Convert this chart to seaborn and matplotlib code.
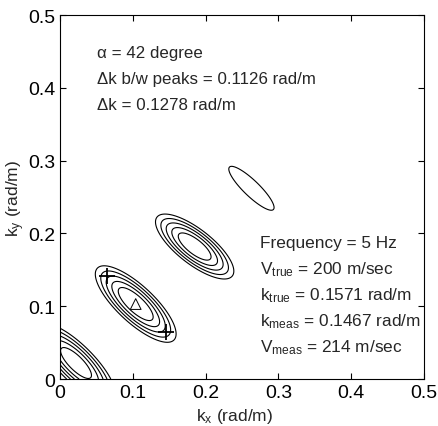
import numpy as np
import matplotlib
matplotlib.use("Agg")
import matplotlib.pyplot as plt
import seaborn as sns

# Beamformer response peaks (aliased lattice along the array direction)
peak_kx = [0.022, 0.104, 0.185, 0.263]
peak_ky = [0.022, 0.103, 0.182, 0.262]
peak_amp = [1.00, 1.03, 1.02, 0.57]
peak_sigma_long = [0.062, 0.060, 0.055, 0.082]    # major axis, rad/m
peak_sigma_short = [0.021, 0.021, 0.020, 0.021]   # minor axis, rad/m
peak_angle = [-45.0, -43.0, -38.0, -44.0]         # major-axis direction, deg
levels = [0.5, 0.6, 0.7, 0.8, 0.9]

# Estimated peak pair and measured maximum
pair_kx = [0.064, 0.145]
pair_ky = [0.142, 0.064]
max_kx = [0.104]
max_ky = [0.103]

ticks = [0, 0.1, 0.2, 0.3, 0.4, 0.5]
tick_labels = ["0", "0.1", "0.2", "0.3", "0.4", "0.5"]

left_lines = ["α = 42 degree",
              "Δk b/w peaks = 0.1126 rad/m",
              "Δk = 0.1278 rad/m"]
right_lines = [r"Frequency = 5 Hz",
               r"V$_{\rm true}$ = 200 m/sec",
               r"k$_{\rm true}$ = 0.1571 rad/m",
               r"k$_{\rm meas}$ = 0.1467 rad/m",
               r"V$_{\rm meas}$ = 214 m/sec"]

sns.set_style("ticks")
plt.rcParams["font.family"] = ["Liberation Sans", "DejaVu Sans"]
plt.rcParams["mathtext.fontset"] = "custom"
plt.rcParams["mathtext.rm"] = "Liberation Sans"
plt.rcParams["mathtext.it"] = "Liberation Sans:italic"
plt.rcParams["mathtext.bf"] = "Liberation Sans:bold"

fig = plt.figure(figsize=(4.39, 4.27), dpi=100)
ax = fig.add_axes([0.1367, 0.110, 0.829, 0.8525])

kx = np.linspace(0, 0.5, 501)
ky = np.linspace(0, 0.5, 501)
KX, KY = np.meshgrid(kx, ky)
Z = np.zeros_like(KX)
for cx, cy, a, sl, ss, ang in zip(peak_kx, peak_ky, peak_amp,
                                  peak_sigma_long, peak_sigma_short, peak_angle):
    th = np.deg2rad(ang)
    dx, dy = KX - cx, KY - cy
    u = dx * np.cos(th) + dy * np.sin(th)
    v = -dx * np.sin(th) + dy * np.cos(th)
    Z += a * np.exp(-0.5 * ((u / sl) ** 2 + (v / ss) ** 2))

ax.contour(KX, KY, Z, levels=levels, colors="black", linewidths=0.8)

sns.scatterplot(x=pair_kx, y=pair_ky, marker="+", s=120, color="black",
                linewidth=1.3, ax=ax, zorder=5)
sns.scatterplot(x=max_kx, y=max_ky, marker="^", s=60, facecolor="none",
                edgecolor="black", linewidth=0.7, ax=ax, zorder=5)

ax.set_xlim(0, 0.5)
ax.set_ylim(0, 0.5)
ax.set_xticks(ticks)
ax.set_xticklabels(tick_labels)
ax.set_yticks(ticks)
ax.set_yticklabels(tick_labels)
ax.tick_params(direction="in", length=4, width=0.8, labelsize=14,
               top=True, right=True, colors="black")
for sp in ax.spines.values():
    sp.set_visible(True)
    sp.set_linewidth(0.8)
    sp.set_color("black")

ax.set_xlabel(r"k$_{\rm x}$ (rad/m)", fontsize=12.5, labelpad=1)
ax.set_ylabel(r"k$_{\rm y}$ (rad/m)", fontsize=12.5, labelpad=1)
ax.xaxis.set_label_coords(0.48, -0.075)

for i, t in enumerate(left_lines):
    ax.text(0.051, 0.449 - 0.036 * i, t, fontsize=12.2, va="center", ha="left")
for i, t in enumerate(right_lines):
    ax.text(0.275, 0.188 - 0.036 * i, t, fontsize=12.4, va="center", ha="left")

fig.savefig("out.png", dpi=100)
